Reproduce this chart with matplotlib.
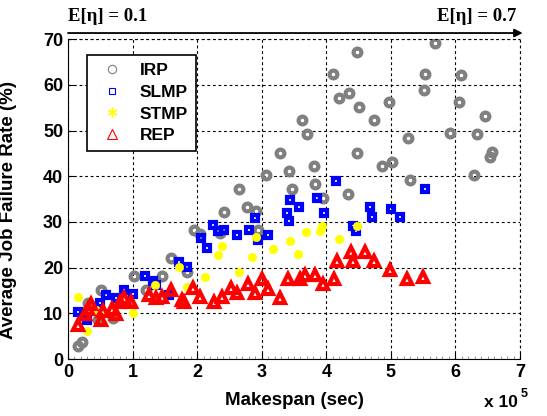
import numpy as np
import matplotlib.pyplot as plt
from matplotlib.lines import Line2D
from matplotlib.ticker import MultipleLocator

plt.rcParams['font.family'] = ['Liberation Sans', 'DejaVu Sans']
plt.rcParams['font.weight'] = 'bold'

# makespan in units of 1e5 sec, failure rate in %
irp_x = [0.15, 0.22, 0.31, 0.51, 0.47, 0.70, 1.03, 1.21, 1.45, 1.59, 1.84, 1.95, 2.04, 2.36,
         2.41, 2.65, 2.78, 2.91, 2.95, 3.06, 3.28, 3.43, 3.47, 3.70, 3.62, 3.81, 3.83, 3.95,
         4.11, 4.20, 4.35, 4.33, 4.47, 4.48, 4.50, 4.74, 4.87, 4.97, 5.02, 5.27, 5.29, 5.51,
         5.53, 5.69, 5.91, 6.05, 6.09, 6.29, 6.34, 6.46, 6.54, 6.57]
irp_y = [2.8, 3.8, 12.3, 15.1, 8.5, 8.9, 18.2, 15.2, 18.2, 22.2, 19.0, 28.2, 27.3, 27.5,
         32.2, 37.1, 33.2, 32.3, 28.2, 40.2, 45.1, 41.2, 37.2, 49.2, 52.3, 42.2, 38.2, 35.2,
         62.3, 57.2, 58.3, 36.2, 67.2, 45.1, 55.1, 52.3, 42.2, 56.3, 43.2, 48.3, 39.2, 58.8,
         62.3, 69.2, 49.4, 56.2, 62.2, 40.2, 49.2, 53.2, 44.2, 45.2]

slmp_x = [0.16, 0.29, 0.50, 0.59, 0.75, 0.87, 1.01, 1.19, 1.32, 1.37, 1.57, 1.72, 1.85,
          2.06, 2.15, 2.25, 2.33, 2.42, 2.61, 2.81, 2.90, 2.94, 3.10, 3.39, 3.43, 3.44,
          3.58, 3.85, 3.97, 4.15, 4.42, 4.46, 4.67, 4.71, 5.00, 5.14, 5.53]
slmp_y = [10.2, 8.6, 12.2, 14.0, 13.3, 15.0, 14.2, 18.2, 17.1, 16.2, 14.0, 21.2, 20.2,
          26.4, 24.2, 29.3, 28.1, 28.2, 27.1, 28.2, 30.9, 26.1, 27.1, 32.0, 30.2, 34.9,
          33.2, 35.3, 32.0, 39.0, 29.2, 28.0, 33.3, 31.1, 32.9, 31.1, 37.2]

stmp_x = [0.16, 0.29, 0.44, 0.61, 1.00, 1.35, 1.72, 1.85, 2.12, 2.33, 2.39, 2.65, 2.85,
          2.91, 3.18, 3.44, 3.56, 3.69, 3.90, 3.94, 4.19, 4.48]
stmp_y = [13.6, 6.2, 10.7, 10.0, 10.1, 16.2, 20.2, 15.8, 17.9, 22.8, 24.8, 19.1, 22.4,
          26.7, 24.0, 25.8, 22.9, 27.7, 28.1, 29.2, 26.3, 29.2]

rep_x = [0.16, 0.26, 0.31, 0.36, 0.51, 0.54, 0.68, 0.75, 0.80, 0.86, 0.97, 1.26, 1.37,
         1.46, 1.60, 1.76, 1.80, 1.94, 2.04, 2.26, 2.38, 2.53, 2.62, 2.79, 2.89, 3.00,
         3.10, 3.28, 3.41, 3.59, 3.67, 3.83, 3.95, 4.12, 4.16, 4.38, 4.42, 4.60, 4.74,
         4.98, 5.25, 5.50]
rep_y = [7.4, 9.8, 11.0, 12.0, 8.5, 10.5, 11.0, 9.8, 12.5, 13.4, 12.5, 14.0, 13.3,
         13.5, 15.1, 13.0, 12.5, 15.5, 13.5, 12.4, 13.5, 15.5, 14.5, 16.4, 14.5, 17.4,
         15.4, 13.4, 17.4, 17.4, 18.4, 18.4, 16.4, 17.4, 21.4, 23.5, 21.4, 23.5, 21.4,
         19.4, 17.4, 18.0]

fig = plt.figure(figsize=(5.47, 4.16), dpi=100)
ax = fig.add_axes([0.1243, 0.137, 0.8263, 0.769])

ax.plot(irp_x, irp_y, ls='none', marker='o', ms=5.6, mfc='none', mec='#808080', mew=3.0)
ax.plot(slmp_x, slmp_y, ls='none', marker='s', ms=4.6, mfc='none', mec='#0000ff', mew=3.0)
ax.plot(stmp_x, stmp_y, ls='none', marker='o', ms=6.0, mfc='#ffff00', mec='#ffff00', mew=0.5)
ax.plot(rep_x, rep_y, ls='none', marker='^', ms=7.5, mfc='none', mec='#ff0000', mew=3.0)

ax.set_xlim(0, 7)
ax.set_ylim(0, 70)
ax.xaxis.set_major_locator(MultipleLocator(1))
ax.yaxis.set_major_locator(MultipleLocator(10))
ax.xaxis.set_minor_locator(MultipleLocator(0.1))
ax.tick_params(which='major', direction='in', length=4, labelsize=13, width=0.8)
ax.tick_params(which='minor', axis='x', direction='in', length=2, color='#888888')
ax.tick_params(axis='y', which='minor', left=False)
for lab in ax.get_xticklabels() + ax.get_yticklabels():
    lab.set_fontweight('bold')

ax.grid(True, color='black', linestyle=(0, (2.5, 2.5)), linewidth=0.8)
ax.spines['top'].set_visible(False)
ax.spines['right'].set_visible(False)
ax.axhline(70, color='black', linestyle=(0, (2.5, 2.5)), linewidth=0.8, clip_on=False)
ax.axvline(7, color='black', linestyle=(0, (2.5, 2.5)), linewidth=0.8, clip_on=False)

ax.set_xlabel('Makespan (sec)', fontsize=13.5, fontweight='bold', labelpad=8)
ax.set_ylabel('Average Job Failure Rate (%)', fontsize=13.5, fontweight='bold')
ax.yaxis.set_label_coords(-0.112, 0.465)

fig.text(0.885, 0.022, 'x 10', fontsize=12.5, fontweight='bold')
fig.text(0.951, 0.045, '5', fontsize=9, fontweight='bold')

ax.annotate('', xy=(1.006, 1.019), xytext=(0, 1.019), xycoords='axes fraction',
            arrowprops=dict(arrowstyle='-|>', color='black', lw=1.3,
                            mutation_scale=12, shrinkA=0, shrinkB=0), annotation_clip=False)
ax.text(0, 1.043, 'E[η] = 0.1', transform=ax.transAxes, ha='left', va='bottom',
        fontsize=13.5, fontweight='bold', family=['Liberation Serif', 'DejaVu Serif'])
ax.text(0.993, 1.043, 'E[η] = 0.7', transform=ax.transAxes, ha='right', va='bottom',
        fontsize=13.5, fontweight='bold', family=['Liberation Serif', 'DejaVu Serif'])

handles = [
    Line2D([], [], ls='none', marker='o', ms=6, mfc='none', mec='#808080', mew=0.8),
    Line2D([], [], ls='none', marker='s', ms=5, mfc='none', mec='#0000ff', mew=0.8),
    Line2D([], [], ls='none', marker=(6, 2, 0), ms=7, mec='#ffff00', mew=1),
    Line2D([], [], ls='none', marker='^', ms=7, mfc='none', mec='#ff0000', mew=0.8),
]
leg = ax.legend(handles, ['IRP', 'SLMP', 'STMP', 'REP'], loc='upper left',
                bbox_to_anchor=(0.041, 0.95), borderaxespad=0, fancybox=False,
                framealpha=1, edgecolor='black', prop={'weight': 'bold', 'size': 12.5},
                labelspacing=0.38, handletextpad=0.6, handlelength=2.0, borderpad=0.45)
leg.get_frame().set_linewidth(1.2)

fig.savefig('out.png', dpi=100)
